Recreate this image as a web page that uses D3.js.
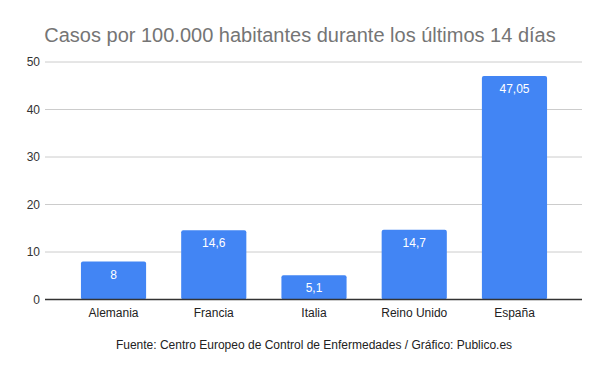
<!DOCTYPE html>
<html>
<head>
<meta charset="utf-8">
<script src="https://cdn.jsdelivr.net/npm/d3@7"></script>
<style>
  body { margin: 0; background: #fff; }
  svg { font-family: Arial, "Liberation Sans", sans-serif; }
</style>
</head>
<body>
<svg id="chart" width="600" height="371"></svg>
<script>
// datos
const paises = ["Alemania", "Francia", "Italia", "Reino Unido", "España"];
const casos = [8, 14.6, 5.1, 14.7, 47.05];
const etiquetas = ["8", "14,6", "5,1", "14,7", "47,05"];
const ticksY = [0, 10, 20, 30, 40, 50];

function dibujar() {
    let svg = d3.select("#chart");

    let x = d3.scaleBand()
        .domain(paises)
        .range([63.4, 564.6])
        .paddingInner(0.35)
        .paddingOuter(0.175);

    let y = d3.scaleLinear()
        .domain([0, 50])
        .range([299.5, 62]);

    // titulo
    svg.append("text")
        .attr("x", 300)
        .attr("y", 41.5)
        .attr("text-anchor", "middle")
        .attr("fill", "#757575")
        .style("font-size", "20px")
        .text("Casos por 100.000 habitantes durante los últimos 14 días");

    // rejilla
    svg.append("g")
        .selectAll("line")
        .data(ticksY.filter(d => d > 0))
        .enter().append("line")
        .attr("x1", 45).attr("x2", 582)
        .attr("y1", d => y(d)).attr("y2", d => y(d))
        .attr("stroke", "#cccccc")
        .attr("stroke-width", 1);

    // eje y
    let yAxis = svg.append("g")
        .attr("transform", "translate(40,0)")
        .call(d3.axisLeft(y).tickValues(ticksY).tickSize(0).tickPadding(0));
    yAxis.select(".domain").remove();
    yAxis.selectAll("text")
        .attr("fill", "#333")
        .style("font-size", "12px")
        .style("font-family", "Arial, 'Liberation Sans', sans-serif");

    // barras
    svg.append("g")
        .selectAll("rect")
        .data(casos)
        .enter().append("rect")
        .attr("x", (d, i) => x(paises[i]))
        .attr("y", d => y(d))
        .attr("width", x.bandwidth())
        .attr("height", d => y(0) - y(d))
        .attr("rx", 2)
        .attr("fill", "#4285f4");

    // etiquetas de valor
    svg.append("g")
        .selectAll("text")
        .data(casos)
        .enter().append("text")
        .attr("x", (d, i) => x(paises[i]) + x.bandwidth() / 2)
        .attr("y", d => y(d) + 17)
        .attr("text-anchor", "middle")
        .attr("fill", "#ffffff")
        .style("font-size", "12px")
        .text((d, i) => etiquetas[i]);

    // linea base
    svg.append("line")
        .attr("x1", 45).attr("x2", 582)
        .attr("y1", y(0)).attr("y2", y(0))
        .attr("stroke", "#333")
        .attr("stroke-width", 1.5);

    // eje x
    let xAxis = svg.append("g")
        .attr("transform", "translate(0," + y(0) + ")")
        .call(d3.axisBottom(x).tickSize(0).tickPadding(9));
    xAxis.select(".domain").remove();
    xAxis.selectAll("text")
        .attr("fill", "#222")
        .style("font-size", "12px")
        .style("font-family", "Arial, 'Liberation Sans', sans-serif");

    // fuente
    svg.append("text")
        .attr("x", 314)
        .attr("y", 349)
        .attr("text-anchor", "middle")
        .attr("fill", "#222")
        .style("font-size", "12px")
        .text("Fuente: Centro Europeo de Control de Enfermedades / Gráfico: Publico.es");
}

document.addEventListener("DOMContentLoaded", dibujar);
</script>
</body>
</html>
